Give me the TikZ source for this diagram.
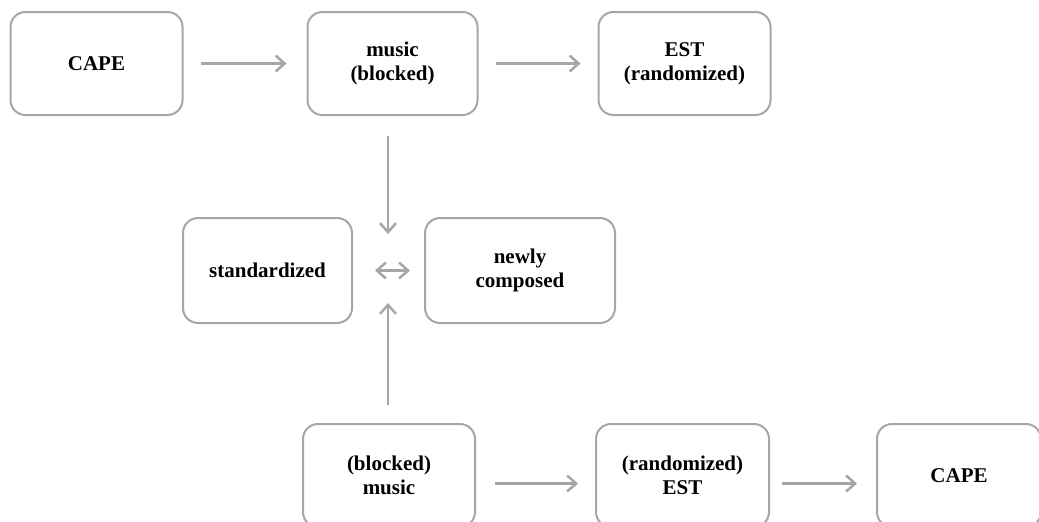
\documentclass[tikz,border=0pt]{standalone}
\usepackage{fontspec}
\setmainfont{Liberation Serif}
\usetikzlibrary{positioning,arrows.meta}
\definecolor{LineGray}{HTML}{A6A6A6}
\tikzstyle{box} = [draw=LineGray,line width=2pt,rounded corners=15pt,minimum width=172pt,minimum height=103pt,align=center,font=\fontsize{21}{24}\selectfont\bfseries]
\tikzstyle{flow} = [draw=LineGray,line width=2.5pt,>={Straight Barb[length=9pt,width=16pt]}]

\begin{document}
\begin{tikzpicture}[x=1pt,y=-1pt]
	\useasboundingbox (0,0) rectangle (1039,522);
	
	% top row
	\node[box] (cape1) at (96.5,63.5) {CAPE};
	\node[box,right=123pt of cape1,minimum width=170pt] (music1) {music\\(blocked)};
	\node[box,right=119pt of music1] (est1) {EST\\(randomized)};
	
	% middle row
	\node[box,minimum width=169pt,minimum height=105pt] (std) at (267.5,270.5) {standardized};
	\node[box,right=71pt of std,minimum width=190pt,minimum height=105pt] (newly) {newly\\composed};
	
	% bottom row
	\node[box] (music2) at (389,475.5) {(blocked)\\music};
	\node[box,right=119pt of music2,minimum width=173pt] (est2) {(randomized)\\EST};
	\node[box,right=106pt of est2,minimum width=164pt] (cape2) {CAPE};
	
	\coordinate (downend) at (388,234);
	\coordinate (upend) at (388,303);
	
	\draw[flow,->,shorten <=17pt,shorten >=20pt] (cape1) -- (music1);
	\draw[flow,->,shorten <=17pt,shorten >=17pt] (music1) -- (est1);
	\draw[flow,->,shorten <=20pt] (downend |- music1.south) -- (downend);
	\draw[flow,<->,shorten <=22pt,shorten >=14pt] (std) -- (newly);
	\draw[flow,->,shorten <=18pt] (upend |- music2.north) -- (upend);
	\draw[flow,->,shorten <=19pt,shorten >=17pt] ([yshift=-8pt]music2.east) -- ([yshift=-8pt]est2.west);
	\draw[flow,->,shorten <=12pt,shorten >=19pt] ([yshift=-8pt]est2.east) -- ([yshift=-8pt]cape2.west);
	
\end{tikzpicture}
\end{document}
